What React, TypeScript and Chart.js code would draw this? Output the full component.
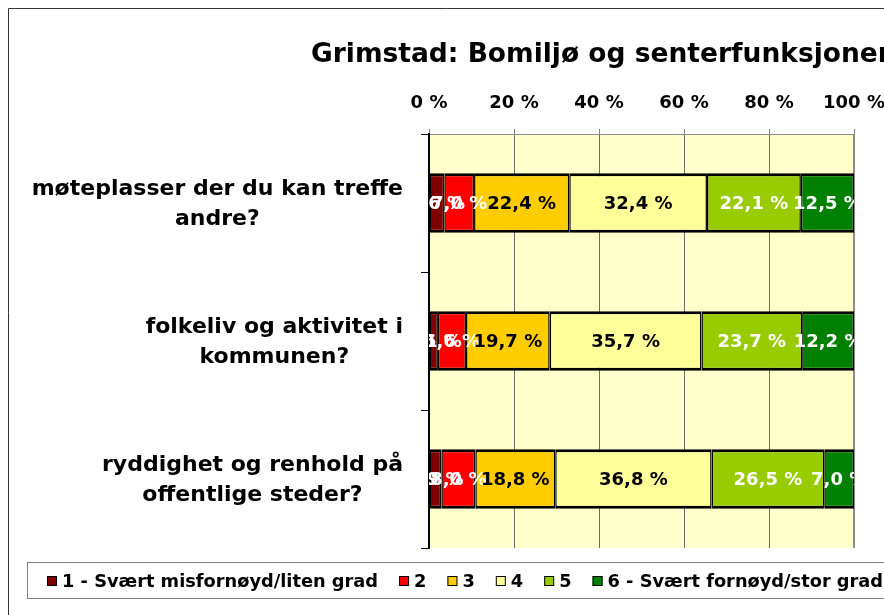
import React, { useEffect, useRef } from "react";
import { Chart, registerables } from "chart.js";

Chart.register(...registerables);

const TITLE = "Grimstad: Bomiljø og senterfunksjoner";
const CATEGORIES: string[][] = [
  ["møteplasser der du kan treffe", "andre?"],
  ["folkeliv og aktivitet i", "kommunen?"],
  ["ryddighet og renhold på", "offentlige steder?"],
];
const SERIES_LABELS = [
  "1 - Svært misfornøyd/liten grad",
  "2",
  "3",
  "4",
  "5",
  "6 - Svært fornøyd/stor grad",
];
const S1 = [3.6, 2.1, 2.9];
const S2 = [7.0, 6.6, 8.0];
const S3 = [22.4, 19.7, 18.8];
const S4 = [32.4, 35.7, 36.8];
const S5 = [22.1, 23.7, 26.5];
const S6 = [12.5, 12.2, 7.0];
const SERIES_VALUES = [S1, S2, S3, S4, S5, S6];
const SERIES_COLORS = ["#7f0000", "#ff0000", "#ffcc00", "#ffff99", "#99cc00", "#008000"];
const LABEL_COLORS = ["#ffffff", "#ffffff", "#000000", "#000000", "#ffffff", "#ffffff"];
const X_MIN = 0;
const X_MAX = 100;
const X_STEP = 20;

const FONT = "'DejaVu Sans', 'Liberation Sans', Arial, sans-serif";

const fmt = (v: number) => v.toFixed(1).replace(".", ",") + " %";

const decorPlugin = {
  id: "decor",
  beforeDraw(chart: any) {
    const { ctx, chartArea: a, width, height } = chart;
    ctx.save();
    ctx.fillStyle = "#ffffff";
    ctx.fillRect(0, 0, width, height);
    ctx.fillStyle = "#ffffcc";
    ctx.fillRect(a.left, a.top, a.right - a.left, a.bottom - a.top);
    // outer frame
    ctx.strokeStyle = "#333333";
    ctx.lineWidth = 1;
    ctx.beginPath();
    ctx.moveTo(8.5, height + 5);
    ctx.lineTo(8.5, 8.5);
    ctx.lineTo(width + 5, 8.5);
    ctx.stroke();
    // title
    ctx.fillStyle = "#000";
    ctx.font = `bold 26.5px ${FONT}`;
    ctx.textAlign = "left";
    ctx.textBaseline = "alphabetic";
    ctx.fillText(TITLE, 311, 62);
    ctx.restore();
  },
  beforeDatasetsDraw(chart: any) {
    const { ctx, chartArea: a } = chart;
    ctx.save();
    ctx.strokeStyle = "#8c8c8c";
    ctx.lineWidth = 2;
    ctx.beginPath();
    ctx.moveTo(a.right, a.top);
    ctx.lineTo(a.right, a.bottom);
    ctx.stroke();
    ctx.restore();
  },
  afterDatasetsDraw(chart: any) {
    const { ctx, chartArea: a } = chart;
    ctx.save();
    ctx.beginPath();
    ctx.rect(a.left, a.top, a.right - a.left, a.bottom - a.top);
    ctx.clip();
    ctx.font = `bold 18px ${FONT}`;
    ctx.textAlign = "center";
    ctx.textBaseline = "middle";
    chart.data.datasets.forEach((ds: any, di: number) => {
      const meta = chart.getDatasetMeta(di);
      meta.data.forEach((el: any, i: number) => {
        const v = ds.data[i];
        const cx = (el.x + el.base) / 2;
        ctx.fillStyle = LABEL_COLORS[di];
        ctx.fillText(fmt(v), cx, el.y + 1);
      });
    });
    ctx.restore();
  },
  afterDraw(chart: any) {
    const { ctx } = chart;
    const yScale = chart.scales.y;
    ctx.save();
    // category labels
    ctx.fillStyle = "#000";
    ctx.font = `bold 22px ${FONT}`;
    ctx.textAlign = "center";
    ctx.textBaseline = "middle";
    const rightEdge = 403;
    const lh = 30;
    CATEGORIES.forEach((lines, i) => {
      const y = yScale.getPixelForValue(i);
      const w = Math.max(...lines.map((l) => ctx.measureText(l).width));
      const cx = rightEdge - w / 2;
      lines.forEach((l, k) => {
        ctx.fillText(l, cx, y - ((lines.length - 1) * lh) / 2 + k * lh + 1);
      });
    });
    // legend
    const ly = 581;
    ctx.strokeStyle = "#808080";
    ctx.lineWidth = 1;
    ctx.strokeRect(27.5, 562.5, chart.width + 20, 36);
    ctx.font = `bold 17.8px ${FONT}`;
    ctx.textAlign = "left";
    let x = 47;
    chart.data.datasets.forEach((ds: any) => {
      ctx.fillStyle = ds.backgroundColor;
      ctx.fillRect(x, ly - 5, 10, 10);
      ctx.strokeStyle = "#000";
      ctx.lineWidth = 1;
      ctx.strokeRect(x + 0.5, ly - 4.5, 9, 9);
      ctx.fillStyle = "#000";
      ctx.fillText(ds.label, x + 15, ly + 1);
      x += 15 + ctx.measureText(ds.label).width + 21;
    });
    ctx.restore();
  },
};

export default function App() {
  const ref = useRef<HTMLCanvasElement | null>(null);
  useEffect(() => {
    if (!ref.current) return;
    const chart = new Chart(ref.current, {
      type: "bar",
      data: {
        labels: CATEGORIES.map((c) => c.join(" ")),
        datasets: SERIES_LABELS.map((label, i) => ({
          label,
          data: SERIES_VALUES[i],
          backgroundColor: SERIES_COLORS[i],
          borderColor: "#000000",
          borderWidth: { top: 3, bottom: 3, left: 1.5, right: 1.5 },
          borderSkipped: false,
          categoryPercentage: 0.43,
          barPercentage: 1,
        })),
      },
      options: {
        indexAxis: "y",
        responsive: false,
        animation: false,
        layout: { padding: { top: 70, left: 10, right: 30, bottom: 67 } },
        plugins: {
          legend: { display: false },
          title: { display: false },
          tooltip: { enabled: false },
        },
        scales: {
          x: {
            type: "linear",
            position: "top",
            stacked: true,
            min: X_MIN,
            max: X_MAX,
            ticks: {
              stepSize: X_STEP,
              color: "#000",
              font: { family: FONT, size: 18, weight: "bold" },
              padding: 15,
              callback: (v: any) => `${v} %`,
              maxRotation: 0,
            },
            grid: { color: "#6e6e6e", tickLength: 5, tickColor: "#808080" },
            border: { color: "#8c8c8c", width: 1 },
            afterFit: (s: any) => {
              s.height = 64;
              s.paddingLeft = 0;
              s.paddingRight = 0;
            },
          },
          y: {
            type: "category",
            stacked: true,
            ticks: { display: false },
            grid: {
              drawOnChartArea: false,
              color: "#000",
              tickLength: 8,
              offset: true,
            },
            border: { color: "#000", width: 2 },
            afterFit: (s: any) => {
              s.width = 419;
            },
          },
        },
      },
      plugins: [decorPlugin],
    } as any);
    return () => chart.destroy();
  }, []);
  return (
    <div
      style={{
        position: "fixed",
        left: 0,
        top: 0,
        width: 884,
        height: 615,
        overflow: "hidden",
        background: "#fff",
      }}
    >
      <canvas ref={ref} width={884} height={615} />
    </div>
  );
}
